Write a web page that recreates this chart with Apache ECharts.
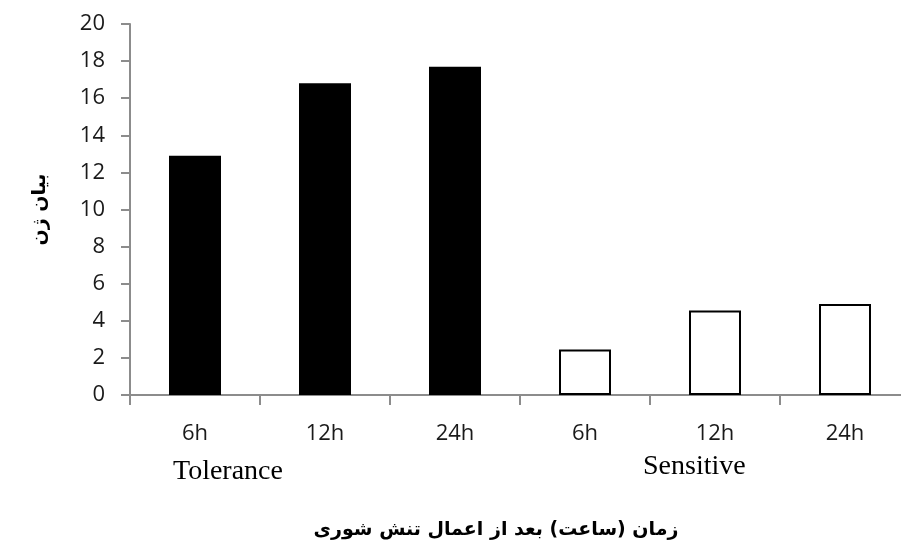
<!DOCTYPE html>
<html><head><meta charset="utf-8">
<script src="https://cdn.jsdelivr.net/npm/echarts@6/dist/echarts.min.js"></script>
<style>html,body{margin:0;padding:0;background:#fff;overflow:hidden}#c{width:912px;height:552px}</style>
</head><body><div id="c"></div>
<script>
var categories = ['6h', '12h', '24h', '6h', '12h', '24h'];
var groupOf = ['Tolerance', 'Tolerance', 'Tolerance', 'Sensitive', 'Sensitive', 'Sensitive'];
var values = [12.9, 16.8, 17.7, 2.45, 4.55, 4.9];
var yTicks = [0, 20, 2];
var yAxisTitle = 'بیان ژن';
var xAxisTitle = 'زمان (ساعت) بعد از اعمال تنش شوری';
var groupLabels = ['Tolerance', 'Sensitive'];

var chart = echarts.init(document.getElementById('c'));
var styleFor = {
  Tolerance: {color: '#000', borderColor: '#000', borderWidth: 0},
  Sensitive: {color: '#fff', borderColor: '#000', borderWidth: 2}
};
var tickFont = '"Open Sans", "Liberation Sans", sans-serif';
chart.setOption({
  animation: false,
  grid: {left: 130, top: 24, width: 780, height: 371},
  xAxis: {
    type: 'category', data: categories, boundaryGap: true,
    axisLine: {lineStyle: {color: '#8c8c8c', width: 2}},
    axisTick: {show: true, length: 10, lineStyle: {color: '#8c8c8c', width: 2}},
    axisLabel: {color: '#1a1a1a', fontSize: 22, fontFamily: tickFont, margin: 28}
  },
  yAxis: {
    type: 'value', min: yTicks[0], max: yTicks[1], interval: yTicks[2],
    splitLine: {show: false},
    axisLine: {show: true, lineStyle: {color: '#8c8c8c', width: 2}},
    axisTick: {show: true, length: 9, lineStyle: {color: '#8c8c8c', width: 2}},
    axisLabel: {color: '#1a1a1a', fontSize: 22, fontFamily: tickFont, margin: 25},
    name: yAxisTitle, nameLocation: 'middle', nameRotate: 90, nameGap: 80,
    nameTextStyle: {color: '#000', fontSize: 19, fontWeight: 'bold', fontFamily: 'DejaVu Sans'}
  },
  series: [{
    type: 'bar', barWidth: '40%',
    data: values.map(function (v, i) { return {value: v, itemStyle: styleFor[groupOf[i]]}; })
  }],
  graphic: [
    {type: 'text', left: 173, top: 458, style: {text: groupLabels[0], font: '28px "Liberation Serif", serif', fill: '#000'}},
    {type: 'text', left: 643, top: 453, style: {text: groupLabels[1], font: '28px "Liberation Serif", serif', fill: '#000'}},
    {type: 'text', x: 496, y: 530, style: {text: xAxisTitle, font: 'bold 19px "DejaVu Sans"', fill: '#000', align: 'center', verticalAlign: 'middle'}}
  ]
});
</script></body></html>
